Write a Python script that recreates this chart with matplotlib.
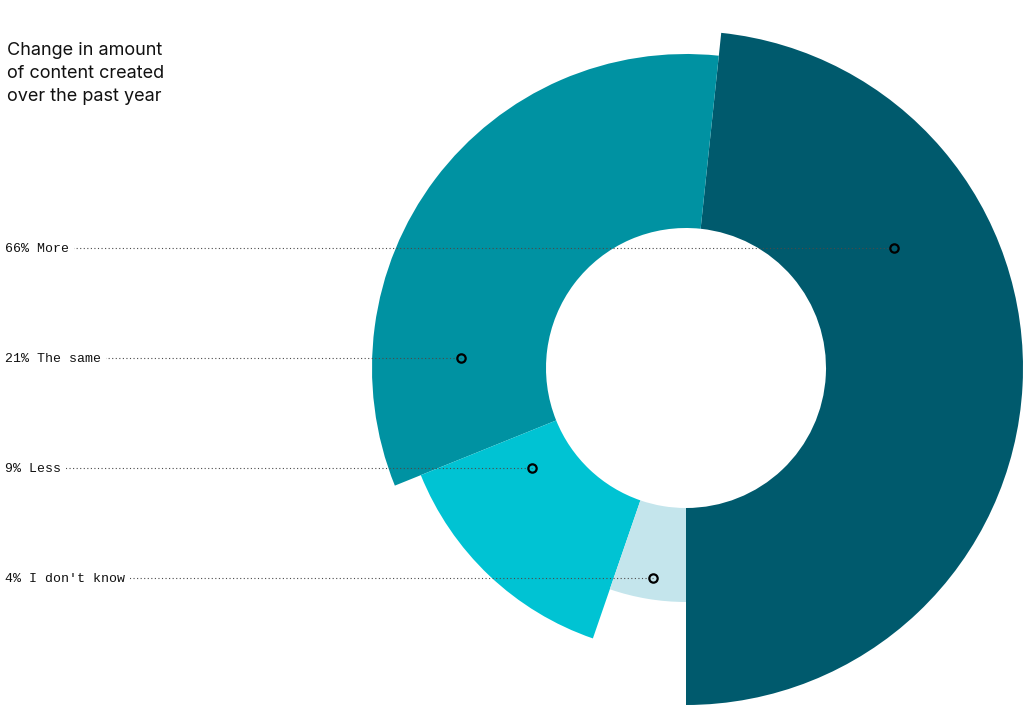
import matplotlib
matplotlib.use("Agg")
import matplotlib.pyplot as plt
import numpy as np
from matplotlib.patches import Wedge

# -------- Data --------
labels = ["More", "The same", "Less", "I don't know"]
shares = [66, 21, 9, 4]
# angular sweep (deg) and outer radius of each segment, as drawn
sweep_deg = [174, 118, 49, 19]
outer_r = [337, 314, 286, 234]
# radius where each label's leader line ends
marker_r = [240, 225, 184, 212.6]
colors = ["#005a6d", "#0092a2", "#00c3d3", "#c4e5ec"]

title = "Change in amount\nof content created\nover the past year"

# -------- Layout (pixel-like units, y up) --------
W, H = 1031, 716
cx, cy = 686, H - 368
inner_r = 140
start_deg = -90
row_top, row_step = H - 248, 110
label_x = 5

fig = plt.figure(figsize=(W / 100, H / 100), dpi=100)
ax = fig.add_axes([0, 0, 1, 1])
ax.set_xlim(0, W)
ax.set_ylim(0, H)
ax.set_aspect("equal")
ax.axis("off")

theta = start_deg
for i, (sw, r, c) in enumerate(zip(sweep_deg, outer_r, colors)):
    ax.add_patch(Wedge((cx, cy), r, theta, theta + sw, width=r - inner_r,
                       facecolor=c, edgecolor="none", zorder=1 + i * 0.01))
    mid = np.deg2rad(theta + sw / 2)
    y = row_top - i * row_step
    dy = y - cy
    side = 1 if np.cos(mid) > 0 else -1
    mx = cx + side * np.sqrt(marker_r[i] ** 2 - dy ** 2)
    ax.plot([label_x, mx], [y, y], color="#4a4a4a", lw=0.8,
            linestyle=(0, (1, 2.2)), zorder=3)
    ax.plot(mx, y, marker="o", ms=6, mfc="none", mec="black", mew=1.6,
            zorder=4)
    ax.text(label_x, y - 1, f"{shares[i]}% {labels[i]}", family="Liberation Mono",
            fontsize=9.5, color="#111111", va="center", ha="left", zorder=5,
            bbox=dict(boxstyle="square,pad=0.35", fc="white", ec="none"))
    theta += sw

ax.text(7, H - 42, title, family="Inter", fontsize=13, color="#111111",
        va="top", ha="left", linespacing=1.45)

fig.savefig("out.png", dpi=100)
